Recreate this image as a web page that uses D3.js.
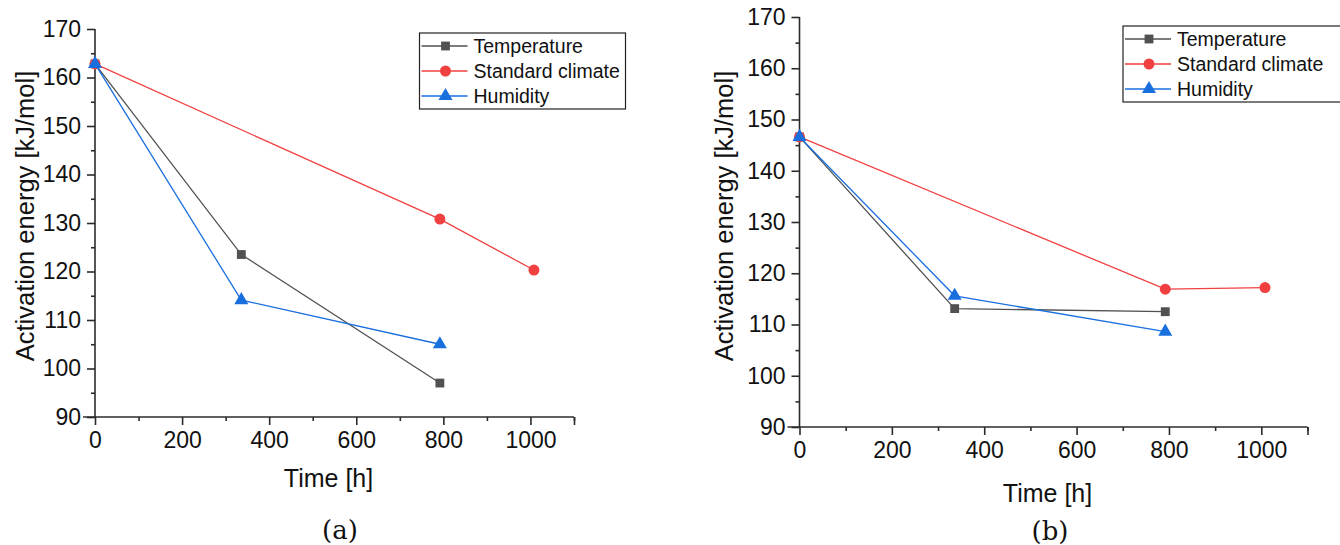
<!DOCTYPE html>
<html>
<head>
<meta charset="utf-8">
<script src="https://cdn.jsdelivr.net/npm/d3@7"></script>
<style>
  body { margin: 0; background: #fff; }
  svg text { font-family: "Liberation Sans", Arial, sans-serif; fill: #111; }
  .caption { font-family: "DejaVu Serif", "Liberation Serif", serif; }
</style>
</head>
<body>
<svg id="chart" width="1340" height="545"></svg>
<script>
// time points [h] for each series
const timeTemp = [0, 336, 792];
const timeStd = [0, 792, 1008];
const timeHum = [0, 336, 792];

// panel (a) activation energy [kJ/mol]
const tempA = [162.8, 123.5, 97.0];
const stdA = [162.8, 130.8, 120.3];
const humA = [162.8, 114.1, 105.0];

// panel (b) activation energy [kJ/mol]
const tempB = [146.6, 113.1, 112.5];
const stdB = [146.6, 116.9, 117.2];
const humB = [146.6, 115.6, 108.6];

const seriesNames = ["Temperature", "Standard climate", "Humidity"];
const xTicks = [0, 200, 400, 600, 800, 1000];
const yTicks = [90, 100, 110, 120, 130, 140, 150, 160, 170];

// Origin default palette
const colors = ["#515151", "#F14040", "#1A6FDF"];
const symbols = [d3.symbolSquare, d3.symbolCircle, d3.symbolTriangle];
const symbolSizes = [78, 95, 85];

const svg = d3.select("#chart");

function drawPanel(cfg) {
    const x = d3.scaleLinear().domain([0, 1100]).range([cfg.x0, cfg.x1]);
    const y = d3.scaleLinear().domain([90, 170]).range([cfg.y0, cfg.y1]);

    const g = svg.append("g");

    // minor ticks first
    g.append("g")
        .attr("transform", `translate(0,${cfg.y0})`)
        .call(d3.axisBottom(x).tickValues(d3.range(100, 1101, 200)).tickSize(4).tickFormat(""))
        .call(a => a.select(".domain").remove());
    g.append("g")
        .attr("transform", `translate(${cfg.x0},0)`)
        .call(d3.axisLeft(y).tickValues(d3.range(95, 170, 10)).tickSize(4).tickFormat(""))
        .call(a => a.select(".domain").remove());

    g.append("g")
        .attr("transform", `translate(0,${cfg.y0})`)
        .call(d3.axisBottom(x).tickValues(xTicks.concat([1100])).tickSize(8).tickPadding(7)
            .tickFormat(d => d === 1100 ? "" : d))
        .call(a => a.select(".domain").attr("d", `M${cfg.x0 - 12},0H${cfg.x1}`));

    g.append("g")
        .attr("transform", `translate(${cfg.x0},0)`)
        .call(d3.axisLeft(y).tickValues(yTicks).tickSize(8).tickPadding(6))
        .call(a => a.select(".domain").attr("d", `M0,${cfg.y0}V${cfg.y1}`));

    g.selectAll(".tick line, .domain")
        .attr("stroke", "#2b2b2b")
        .attr("stroke-width", 1.6);
    g.selectAll(".tick text")
        .attr("fill", "#111")
        .style("font-size", "23px");

    // axis titles
    g.append("text")
        .attr("x", (cfg.x0 + cfg.x1) / 2 - 6)
        .attr("y", cfg.xTitleY)
        .attr("text-anchor", "middle")
        .style("font-size", "25px")
        .text("Time [h]");

    g.append("text")
        .attr("transform", `translate(${cfg.yTitleX},${cfg.yTitleCy}) rotate(-90)`)
        .attr("text-anchor", "middle")
        .style("font-size", "25.5px")
        .text("Activation energy [kJ/mol]");

    // caption
    g.append("text")
        .attr("class", "caption")
        .attr("x", cfg.capX)
        .attr("y", cfg.capY)
        .attr("text-anchor", "middle")
        .style("font-size", "26px")
        .text(cfg.caption);

    // series
    const line = d3.line().x(d => x(d[0])).y(d => y(d[1]));
    cfg.series.forEach((s, i) => {
        const pts = s.t.map((t, k) => [t, s.v[k]]);
        g.append("path")
            .datum(pts)
            .attr("d", line)
            .attr("fill", "none")
            .attr("stroke", colors[i])
            .attr("stroke-width", 1.3);
        g.selectAll(null)
            .data(pts)
            .enter().append("path")
            .attr("transform", d => `translate(${x(d[0])},${y(d[1])})`)
            .attr("d", d3.symbol().type(symbols[i]).size(symbolSizes[i]))
            .attr("fill", colors[i]);
    });

    // legend
    const lg = g.append("g").attr("transform", `translate(${cfg.legX},${cfg.legY})`);
    lg.append("rect")
        .attr("width", cfg.legW)
        .attr("height", 76)
        .attr("fill", "#fff")
        .attr("stroke", "#222")
        .attr("stroke-width", 1.2);
    seriesNames.forEach((name, i) => {
        const row = lg.append("g").attr("transform", `translate(0,${13 + i * 25})`);
        row.append("line")
            .attr("x1", 2).attr("x2", 48)
            .attr("stroke", colors[i])
            .attr("stroke-width", 1.3);
        row.append("path")
            .attr("transform", "translate(26,0)")
            .attr("d", d3.symbol().type(symbols[i]).size(symbolSizes[i]))
            .attr("fill", colors[i]);
        row.append("text")
            .attr("x", 54)
            .attr("dy", "0.35em")
            .style("font-size", "19.5px")
            .text(name);
    });
}

drawPanel({
    x0: 95, x1: 574, y0: 417, y1: 29,
    xTitleY: 487, yTitleX: 34, yTitleCy: 216,
    capX: 340, capY: 539, caption: "(a)",
    legX: 419.5, legY: 33, legW: 206,
    series: [
        { t: timeTemp, v: tempA },
        { t: timeStd, v: stdA },
        { t: timeHum, v: humA }
    ]
});

drawPanel({
    x0: 799.5, x1: 1307.5, y0: 427, y1: 17,
    xTitleY: 502, yTitleX: 733, yTitleCy: 216,
    capX: 1050, capY: 540, caption: "(b)",
    legX: 1123, legY: 26, legW: 240,
    series: [
        { t: timeTemp, v: tempB },
        { t: timeStd, v: stdB },
        { t: timeHum, v: humB }
    ]
});
</script>
</body>
</html>
